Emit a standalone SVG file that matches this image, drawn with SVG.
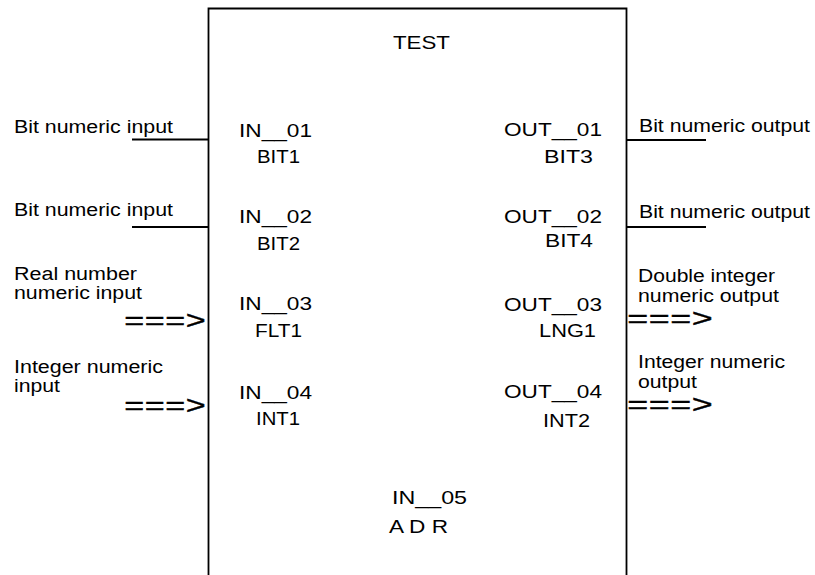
<svg xmlns="http://www.w3.org/2000/svg" width="815" height="575" viewBox="0 0 815 575">
<style>
.t{font-family:"Liberation Sans",Arial,sans-serif;font-size:18px;fill:#000}
.a{font-family:"Liberation Mono","Courier New",monospace;font-size:25px;fill:#000;stroke:#000;stroke-width:0.4}
.ln{stroke:#000;stroke-width:1.8;fill:none}
</style>
<rect width="815" height="575" fill="#fff"/>
<g id="block">
<path class="ln" d="M208.5 575 V8.5 H626.5 V575"/>
<text class="t" x="393" y="48.5" textLength="57" lengthAdjust="spacingAndGlyphs">TEST</text>
</g>
<g id="in01">
<text class="t" x="239" y="136.5" textLength="73" lengthAdjust="spacingAndGlyphs">IN__01</text>
<text class="t" x="257" y="163" textLength="43" lengthAdjust="spacingAndGlyphs">BIT1</text>
<text class="t" x="14" y="133" textLength="159" lengthAdjust="spacingAndGlyphs">Bit numeric input</text>
</g>
<g id="in02">
<text class="t" x="239" y="223" textLength="73" lengthAdjust="spacingAndGlyphs">IN__02</text>
<text class="t" x="257" y="250" textLength="43" lengthAdjust="spacingAndGlyphs">BIT2</text>
<text class="t" x="14" y="216" textLength="159" lengthAdjust="spacingAndGlyphs">Bit numeric input</text>
</g>
<g id="in03">
<text class="t" x="239" y="310" textLength="73" lengthAdjust="spacingAndGlyphs">IN__03</text>
<text class="t" x="255" y="336.5" textLength="47" lengthAdjust="spacingAndGlyphs">FLT1</text>
<text class="t" x="14" y="280" textLength="123" lengthAdjust="spacingAndGlyphs">Real number</text>
<text class="t" x="14" y="299" textLength="128" lengthAdjust="spacingAndGlyphs">numeric input</text>
</g>
<g id="in04">
<text class="t" x="239" y="399" textLength="73" lengthAdjust="spacingAndGlyphs">IN__04</text>
<text class="t" x="256" y="425" textLength="44" lengthAdjust="spacingAndGlyphs">INT1</text>
<text class="t" x="14" y="372.5" textLength="149" lengthAdjust="spacingAndGlyphs">Integer numeric</text>
<text class="t" x="14" y="391.5" textLength="46" lengthAdjust="spacingAndGlyphs">input</text>
</g>
<g id="out01">
<text class="t" x="504" y="136" textLength="98" lengthAdjust="spacingAndGlyphs">OUT__01</text>
<text class="t" x="544" y="163" textLength="49" lengthAdjust="spacingAndGlyphs">BIT3</text>
<text class="t" x="639" y="132" textLength="171" lengthAdjust="spacingAndGlyphs">Bit numeric output</text>
</g>
<g id="out02">
<text class="t" x="504" y="223" textLength="98" lengthAdjust="spacingAndGlyphs">OUT__02</text>
<text class="t" x="545" y="247" textLength="48" lengthAdjust="spacingAndGlyphs">BIT4</text>
<text class="t" x="639" y="218" textLength="171" lengthAdjust="spacingAndGlyphs">Bit numeric output</text>
</g>
<g id="out03">
<text class="t" x="504" y="311" textLength="98" lengthAdjust="spacingAndGlyphs">OUT__03</text>
<text class="t" x="539" y="337" textLength="57" lengthAdjust="spacingAndGlyphs">LNG1</text>
<text class="t" x="638" y="281.5" textLength="137" lengthAdjust="spacingAndGlyphs">Double integer</text>
<text class="t" x="638" y="302" textLength="141" lengthAdjust="spacingAndGlyphs">numeric output</text>
</g>
<g id="out04">
<text class="t" x="504" y="398" textLength="98" lengthAdjust="spacingAndGlyphs">OUT__04</text>
<text class="t" x="543" y="427" textLength="47" lengthAdjust="spacingAndGlyphs">INT2</text>
<text class="t" x="638" y="367.5" textLength="147" lengthAdjust="spacingAndGlyphs">Integer numeric</text>
<text class="t" x="638" y="388" textLength="59" lengthAdjust="spacingAndGlyphs">output</text>
</g>
<g id="in05">
<text class="t" x="392" y="504" textLength="75" lengthAdjust="spacingAndGlyphs">IN__05</text>
<text class="t" x="389" y="533" textLength="59" lengthAdjust="spacingAndGlyphs">A D R</text>
</g>
<g id="connectors">
<line class="ln" x1="132" y1="139.5" x2="208.5" y2="139.5"/>
<line class="ln" x1="132" y1="227" x2="208.5" y2="227"/>
<line class="ln" x1="626.5" y1="140" x2="706" y2="140"/>
<line class="ln" x1="626.5" y1="227" x2="706" y2="227"/>
<text class="a" x="124" y="328.5" textLength="82" lengthAdjust="spacingAndGlyphs">===&gt;</text>
<text class="a" x="124" y="414" textLength="82" lengthAdjust="spacingAndGlyphs">===&gt;</text>
<text class="a" x="627" y="327" textLength="86" lengthAdjust="spacingAndGlyphs">===&gt;</text>
<text class="a" x="627" y="413.2" textLength="86" lengthAdjust="spacingAndGlyphs">===&gt;</text>
</g>
</svg>
